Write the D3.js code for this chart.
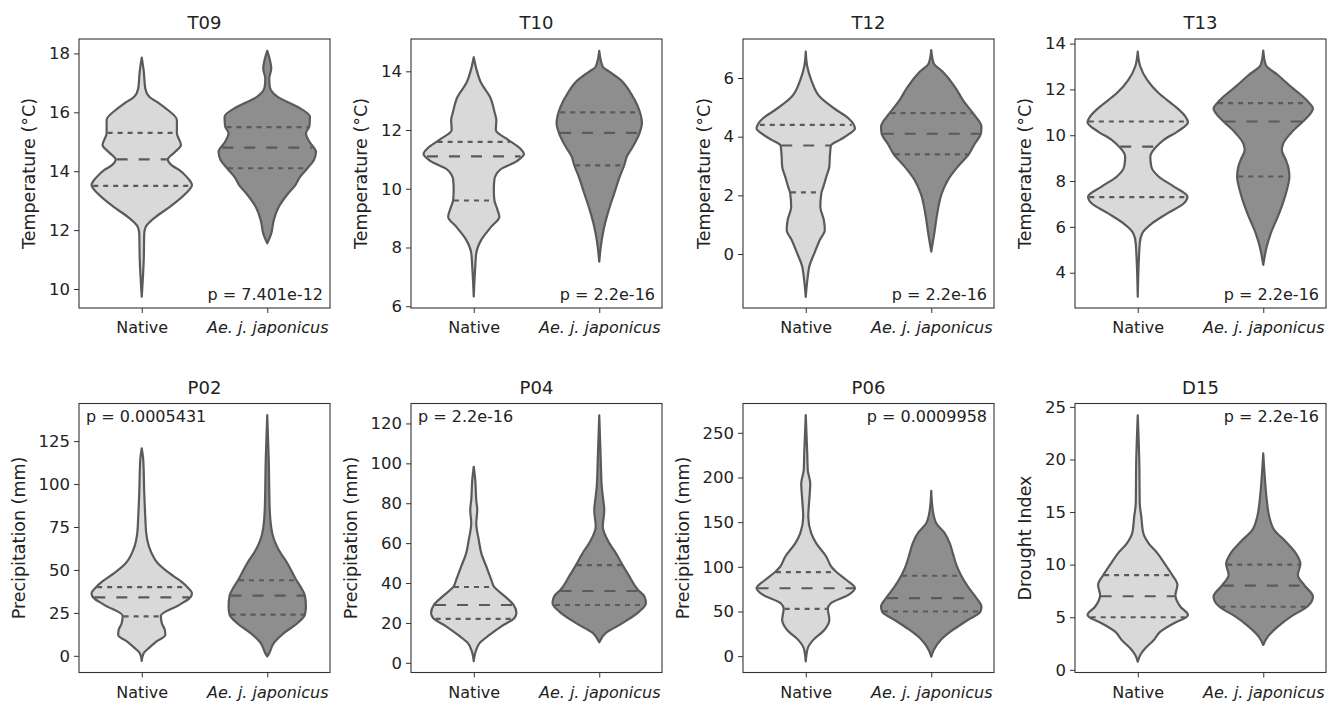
<!DOCTYPE html>
<html>
<head>
<meta charset="utf-8">
<script src="https://cdn.jsdelivr.net/npm/d3@7"></script>
<style>
  body { margin: 0; background: #fff; }
  text { font-family: "DejaVu Sans", sans-serif; fill: #222; }
</style>
</head>
<body>
<script>
// variables shown, one panel each
var panels = ["T09", "T10", "T12", "T13", "P02", "P04", "P06", "D15"];
var yLabels = ["Temperature (°C)", "Temperature (°C)", "Temperature (°C)", "Temperature (°C)",
               "Precipitation (mm)", "Precipitation (mm)", "Precipitation (mm)", "Drought Index"];
var yDomains = [[9.355, 18.49], [5.94, 15.1], [-1.84, 7.33], [2.46, 14.2],
                [-9.7, 146.9], [-4.85, 130], [-18.3, 282.8], [-0.25, 25.32]];
var yTicks = [[10, 12, 14, 16, 18], [6, 8, 10, 12, 14], [0, 2, 4, 6], [4, 6, 8, 10, 12, 14],
              [0, 25, 50, 75, 100, 125], [0, 20, 40, 60, 80, 100, 120], [0, 50, 100, 150, 200, 250], [0, 5, 10, 15, 20, 25]];
var pValues = ["p = 7.401e-12", "p = 2.2e-16", "p = 2.2e-16", "p = 2.2e-16",
               "p = 0.0005431", "p = 2.2e-16", "p = 0.0009958", "p = 2.2e-16"];
var pCorner = ["br", "br", "br", "br", "tl", "tl", "tr", "tr"];
var groups = ["Native", "Ae. j. japonicus"];

// quartiles [q1, median, q3]
var nativeQuartiles = [[13.5, 14.4, 15.3], [9.6, 11.1, 11.6], [2.1, 3.7, 4.4], [7.3, 9.5, 10.6],
                       [23, 34, 40], [22, 29, 38], [53, 76, 94], [5, 7, 9]];
var japonicusQuartiles = [[14.1, 14.8, 15.5], [10.8, 11.9, 12.6], [3.4, 4.1, 4.8], [8.2, 10.6, 11.4],
                          [24, 35, 44], [29, 36, 49], [50, 65, 90], [6, 8, 10]];

// density profiles [value, relative density], top to bottom
var nativeProfiles = [
  [[17.86,0],[17.4,0.04],[16.81,0.07],[16.53,0.15],[16.3,0.35],[16.08,0.52],[15.74,0.7],[15.29,0.7],[14.89,0.78],[14.65,0.66],[14.4,0.52],[14.2,0.6],[14.04,0.75],[13.8,0.9],[13.53,1.0],[13.25,0.88],[12.79,0.56],[12.45,0.28],[12.11,0.08],[11.89,0.05],[11.0,0.04],[9.74,0]],
  [[14.48,0],[14.16,0.04],[13.59,0.15],[13.14,0.32],[12.57,0.42],[12.34,0.45],[12.0,0.44],[11.66,0.69],[11.38,0.92],[11.18,1.0],[10.93,0.85],[10.64,0.52],[10.3,0.41],[9.96,0.4],[9.62,0.41],[9.3,0.47],[9.05,0.51],[8.71,0.35],[8.26,0.15],[7.81,0.05],[7.35,0.03],[6.33,0]],
  [[6.9,0],[6.39,0.03],[5.93,0.11],[5.36,0.28],[4.91,0.61],[4.63,0.85],[4.28,0.98],[4.11,0.88],[3.89,0.68],[3.69,0.5],[3.32,0.48],[2.98,0.47],[2.64,0.41],[2.29,0.35],[2.07,0.31],[1.61,0.29],[1.16,0.36],[0.82,0.38],[0.48,0.28],[0.02,0.17],[-0.43,0.07],[-0.77,0.04],[-1.46,0]],
  [[13.65,0],[13.0,0.05],[12.41,0.19],[11.83,0.42],[11.25,0.75],[10.81,0.95],[10.57,1.0],[10.16,0.79],[9.8,0.52],[9.5,0.37],[9.07,0.25],[8.63,0.27],[8.19,0.42],[7.76,0.72],[7.32,0.99],[7.03,0.92],[6.59,0.59],[6.16,0.29],[5.72,0.09],[5.28,0.04],[2.95,0]],
  [[120.8,0],[114,0.03],[94.6,0.05],[81,0.07],[71.3,0.09],[61.6,0.17],[53.9,0.32],[48.1,0.55],[43.2,0.79],[39.7,0.92],[36.5,1.0],[34.1,0.97],[29.7,0.75],[23.3,0.38],[19,0.4],[15.1,0.46],[12.2,0.47],[8.3,0.29],[4.5,0.14],[1.6,0.04],[-2.9,0]],
  [[98.3,0],[91.6,0.03],[81.6,0.05],[76.6,0.07],[70,0.05],[61.6,0.1],[55,0.15],[48.3,0.25],[41.6,0.35],[38.3,0.4],[33.3,0.62],[29.2,0.79],[25,0.85],[22.5,0.81],[18.3,0.55],[14.1,0.32],[10,0.12],[6.6,0.05],[0.8,0]],
  [[269.8,0],[227,0.03],[208.3,0.04],[193.4,0.09],[174.7,0.07],[156,0.05],[137.5,0.11],[126.3,0.21],[111.3,0.41],[100.1,0.51],[94.2,0.61],[85.2,0.81],[76,0.98],[68.5,0.85],[59.2,0.5],[53.2,0.44],[40.5,0.47],[29.3,0.37],[18.2,0.15],[8.9,0.04],[-6,0]],
  [[24.2,0],[19.9,0.03],[15.8,0.04],[14.6,0.07],[13,0.11],[12,0.22],[11.1,0.39],[10,0.55],[9,0.69],[8.07,0.79],[7.09,0.75],[6.0,0.85],[5.22,1.0],[5.03,0.97],[4.43,0.72],[3.63,0.45],[2.84,0.32],[2.05,0.15],[1.42,0.05],[0.78,0]]
];
var japonicusProfiles = [
  [[18.09,0],[17.8,0.05],[17.49,0.08],[17.15,0.04],[16.87,0.05],[16.53,0.2],[16.19,0.6],[15.85,0.85],[15.53,0.84],[15.29,0.77],[15.0,0.84],[14.66,0.97],[14.38,0.93],[14.1,0.8],[13.8,0.65],[13.53,0.56],[13.25,0.42],[12.79,0.23],[12.34,0.13],[11.89,0.08],[11.55,0]],
  [[14.7,0],[14.16,0.07],[13.99,0.2],[13.7,0.43],[13.25,0.63],[12.8,0.77],[12.23,0.85],[11.89,0.8],[11.44,0.67],[11.1,0.55],[10.81,0.5],[10.42,0.41],[9.85,0.3],[9.28,0.19],[8.71,0.1],[8.26,0.05],[7.52,0]],
  [[6.95,0],[6.5,0.05],[6.21,0.23],[5.7,0.47],[5.25,0.63],[4.8,0.83],[4.34,1.0],[4.11,0.99],[3.77,0.87],[3.41,0.75],[2.98,0.53],[2.52,0.33],[2.07,0.21],[1.39,0.12],[0.7,0.06],[0.08,0]],
  [[13.69,0],[13.07,0.05],[12.63,0.29],[12.12,0.55],[11.69,0.79],[11.4,0.92],[11.18,0.99],[10.89,0.92],[10.6,0.79],[10.09,0.55],[9.65,0.4],[9.36,0.37],[8.92,0.45],[8.6,0.5],[8.19,0.52],[7.61,0.47],[7.03,0.39],[6.45,0.29],[5.72,0.15],[5.14,0.07],[4.34,0]],
  [[140.1,0],[114,0.03],[84.9,0.05],[71.3,0.1],[61.6,0.23],[53.9,0.4],[44.6,0.57],[38.4,0.7],[35.1,0.75],[28.7,0.77],[24,0.75],[19,0.6],[13.2,0.33],[7.4,0.13],[1.6,0.04],[-0.3,0]],
  [[124.1,0],[101.6,0.03],[88.3,0.05],[81.6,0.08],[76.6,0.1],[68.3,0.07],[60,0.2],[55,0.33],[49.6,0.45],[43.3,0.6],[36.6,0.77],[33.3,0.9],[29.9,0.93],[25.8,0.8],[20,0.47],[15,0.13],[10.3,0]],
  [[185.1,0],[163.5,0.03],[148.7,0.1],[137.5,0.27],[126.3,0.37],[115.1,0.43],[102.2,0.5],[90.9,0.59],[77.8,0.73],[65.1,0.9],[55.4,1.0],[49.8,0.98],[40.5,0.73],[29.3,0.43],[18.2,0.19],[7,0.05],[-0.5,0]],
  [[20.57,0],[18.35,0.03],[16.14,0.07],[14.56,0.12],[13.29,0.22],[12.18,0.45],[11.08,0.65],[10.06,0.74],[9.02,0.69],[8.04,0.82],[6.96,0.99],[6.07,0.89],[5.06,0.55],[4.11,0.29],[3.16,0.09],[2.37,0]]
];

var fills = ["#d9d9d9", "#8e8e8e"];
var lineColor = "#5a5a5a";

var colLeft = [79, 411, 743, 1075],
    rowTop = [39, 403.5],
    axW = 251,
    axH = 269;

var svg = d3.select("body").append("svg")
  .attr("width", 1340)
  .attr("height", 703);

panels.forEach(function(name, i)
{
  var left = colLeft[i % 4],
      top = rowTop[Math.floor(i / 4)];

  var g = svg.append("g").attr("transform", "translate(" + left + "," + top + ")");

  var x = d3.scalePoint().domain(groups).range([0, axW]).padding(0.5);
  var y = d3.scaleLinear().domain(yDomains[i]).range([axH, 0]);
  // violin max half width = 0.4 of category step
  var w = d3.scaleLinear().domain([0, 1]).range([0, x.step() * 0.4]);

  var sets = [
    {group: groups[0], profile: nativeProfiles[i], quart: nativeQuartiles[i], fill: fills[0]},
    {group: groups[1], profile: japonicusProfiles[i], quart: japonicusQuartiles[i], fill: fills[1]}
  ];

  sets.forEach(function(s)
  {
    var cx = x(s.group);
    var area = d3.area()
      .curve(d3.curveMonotoneY)
      .y(function(d) { return y(d[0]); })
      .x0(function(d) { return cx - w(d[1]); })
      .x1(function(d) { return cx + w(d[1]); });

    g.append("path")
      .datum(s.profile)
      .attr("d", area)
      .attr("fill", s.fill)
      .attr("stroke", lineColor)
      .attr("stroke-width", 2.2)
      .attr("stroke-linejoin", "round");

    // width at any value, from the profile knots
    var widthAt = d3.scaleLinear()
      .domain(s.profile.map(function(d) { return d[0]; }))
      .range(s.profile.map(function(d) { return d[1]; }));

    s.quart.forEach(function(q, k)
    {
      var hw = w(widthAt(q));
      g.append("line")
        .attr("x1", cx - hw + 1)
        .attr("x2", cx + hw - 1)
        .attr("y1", y(q))
        .attr("y2", y(q))
        .attr("stroke", lineColor)
        .attr("stroke-width", 2.2)
        .attr("stroke-dasharray", k == 1 ? "11,11" : "5,5");
    });
  });

  // frame
  g.append("rect")
    .attr("width", axW)
    .attr("height", axH)
    .attr("fill", "none")
    .attr("stroke", "#333")
    .attr("stroke-width", 1.1);

  var yAxis = g.append("g")
    .call(d3.axisLeft(y).tickValues(yTicks[i]).tickSize(5).tickPadding(4));
  yAxis.select(".domain").remove();
  yAxis.selectAll(".tick line").attr("stroke", "#333");
  yAxis.selectAll("text")
    .style("font-size", "16.5px")
    .attr("fill", "#222");

  var xAxis = g.append("g")
    .attr("transform", "translate(0," + axH + ")")
    .call(d3.axisBottom(x).tickSize(5).tickPadding(9));
  xAxis.select(".domain").remove();
  xAxis.selectAll(".tick line").attr("stroke", "#333");
  xAxis.selectAll("text")
    .style("font-size", "16px")
    .attr("fill", "#222")
    .style("font-style", function(d) { return d == groups[1] ? "italic" : "normal"; });

  // y label placed left of the widest tick label
  var tickBox = yAxis.node().getBBox();
  g.append("text")
    .attr("transform", "translate(" + (tickBox.x - 14) + "," + (axH / 2) + ") rotate(-90)")
    .attr("text-anchor", "middle")
    .style("font-size", "17.5px")
    .text(yLabels[i]);

  g.append("text")
    .attr("x", axW / 2)
    .attr("y", -10)
    .attr("text-anchor", "middle")
    .style("font-size", "18px")
    .text(name);

  var corner = pCorner[i];
  g.append("text")
    .attr("x", corner == "tl" ? 7 : axW - 7)
    .attr("y", corner == "br" ? axH - 8 : 18)
    .attr("text-anchor", corner == "tl" ? "start" : "end")
    .style("font-size", "16px")
    .text(pValues[i]);
});
</script>
</body>
</html>
